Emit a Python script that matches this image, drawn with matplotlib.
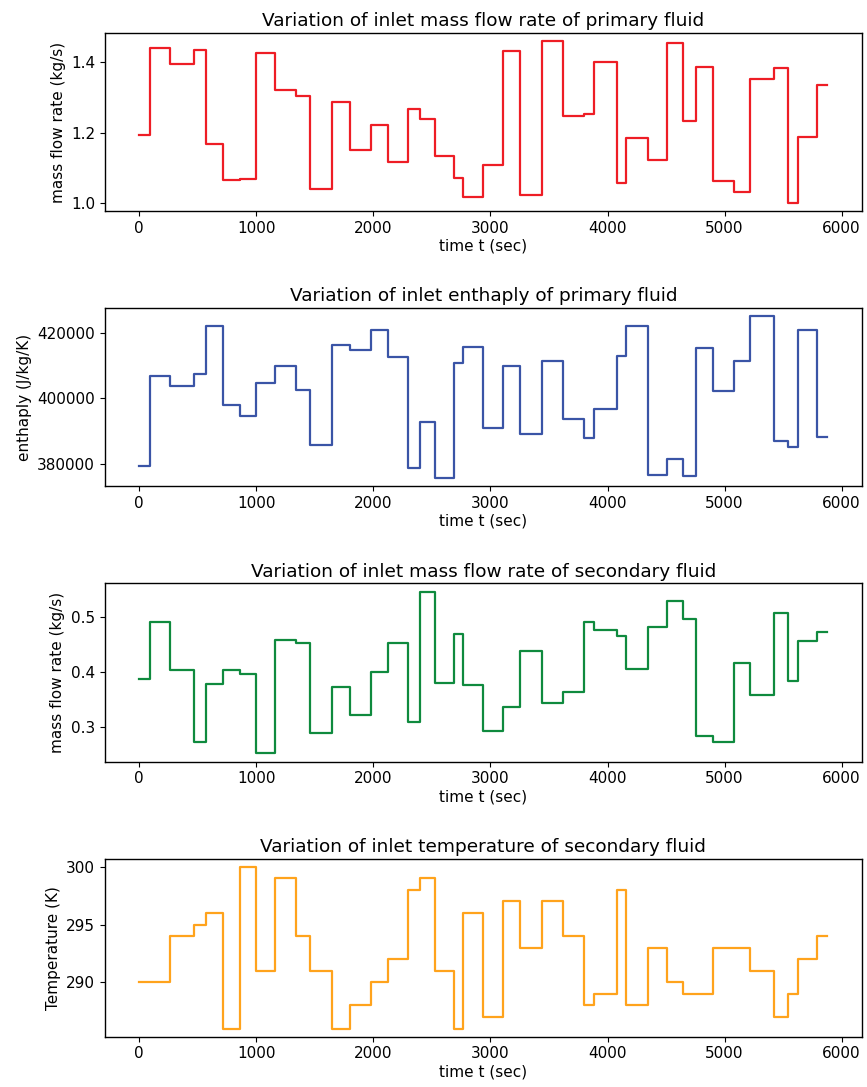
import matplotlib
matplotlib.use('Agg')
import matplotlib.pyplot as plt

# switching times of the step inputs (sec)
t_edges = [0, 91, 262, 469, 569, 719, 859, 1001, 1163, 1342, 1461, 1643, 1797, 1982, 2124,
           2295, 2394, 2522, 2684, 2769, 2940, 3105, 3253, 3444, 3623, 3803, 3882, 4079, 4161,
           4349, 4506, 4648, 4759, 4904, 5081, 5220, 5422, 5545, 5630, 5790, 5878]

m_primary = [1.192, 1.440, 1.394, 1.433, 1.167, 1.066, 1.069, 1.426, 1.320, 1.303,
             1.040, 1.287, 1.152, 1.220, 1.118, 1.268, 1.238, 1.135, 1.071, 1.018,
             1.109, 1.432, 1.024, 1.458, 1.248, 1.253, 1.401, 1.057, 1.184, 1.122,
             1.454, 1.232, 1.386, 1.062, 1.032, 1.351, 1.383, 1.000, 1.188, 1.334]

h_primary = [379600, 406800, 403800, 407400, 422100, 398000, 394500, 404600, 409900, 402500,
             385800, 416300, 414600, 420800, 412500, 378800, 392900, 375700, 410700, 415500,
             390900, 409700, 389300, 411500, 393600, 388100, 396700, 412800, 422000, 376700,
             381500, 376300, 415300, 402200, 411500, 424900, 386900, 385100, 420900, 388200]

m_secondary = [0.386, 0.491, 0.403, 0.2715, 0.378, 0.403, 0.395, 0.2515, 0.458, 0.453,
               0.288, 0.372, 0.321, 0.399, 0.453, 0.309, 0.5455, 0.379, 0.4685, 0.375,
               0.293, 0.335, 0.437, 0.344, 0.364, 0.491, 0.475, 0.4655, 0.404, 0.481,
               0.5285, 0.496, 0.2836, 0.272, 0.415, 0.357, 0.507, 0.384, 0.456, 0.4715]

T_secondary = [290, 290, 294, 295, 296, 286, 300, 291, 299, 294,
               291, 286, 288, 290, 292, 298, 299, 291, 286, 296,
               287, 297, 293, 297, 294, 288, 289, 298, 288, 293,
               290, 289, 289, 293, 293, 291, 287, 289, 292, 294]

titles = ['Variation of inlet mass flow rate of primary fluid',
          'Variation of inlet enthaply of primary fluid',
          'Variation of inlet mass flow rate of secondary fluid',
          'Variation of inlet temperature of secondary fluid']
ylabels = ['mass flow rate (kg/s)', 'enthaply (J/kg/K)', 'mass flow rate (kg/s)', 'Temperature (K)']
colors = ['#ee1d25', '#3a54a6', '#0f8a3e', '#ffa31c']
yticks = [[1.0, 1.2, 1.4], [380000, 400000, 420000], [0.3, 0.4, 0.5], [290, 295, 300]]
series = [m_primary, h_primary, m_secondary, T_secondary]

fs = 11
fig, axs = plt.subplots(4, 1, figsize=(8.67, 10.87), dpi=100)
plt.subplots_adjust(left=0.121, right=0.994, top=0.9694, bottom=0.0463, hspace=0.545)

for i in range(4):
    ax = axs[i]
    vals = series[i]
    ax.step(t_edges, vals + [vals[-1]], where='post', color=colors[i], lw=1.6)
    ax.set_title(titles[i], fontsize=13.3, pad=5)
    ax.set_xlabel('time t (sec)', fontsize=fs, labelpad=2)
    ax.set_ylabel(ylabels[i], fontsize=fs)
    ax.set_xticks([0, 1000, 2000, 3000, 4000, 5000, 6000])
    ax.set_yticks(yticks[i])
    ax.tick_params(labelsize=fs)
    for s in ax.spines.values():
        s.set_linewidth(1.0)
    if i == 1:
        ax.ticklabel_format(axis='y', style='plain', useOffset=False)

fig.savefig('out.png', dpi=100)
